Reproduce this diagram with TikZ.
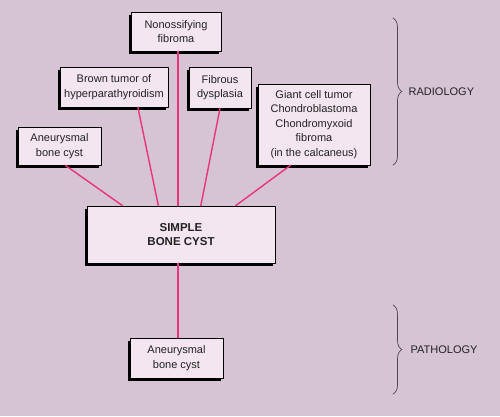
\documentclass[tikz,border=0pt]{standalone}
\usepackage{fontspec}
\setmainfont{Liberation Sans}
\usetikzlibrary{calc,shadows,decorations.pathreplacing}
\definecolor{bgcol}{HTML}{D6C4D4}
\definecolor{boxcol}{HTML}{F3E6F0}
\definecolor{linkcol}{HTML}{E8337F}
\definecolor{inkcol}{HTML}{222222}
\begin{document}
\begin{tikzpicture}[x=1pt, y=-1pt, font=\fontsize{11}{14.5}\selectfont, line join=round, line cap=round,
	lesion/.style={draw=black, line width=0.7pt, fill=boxcol, text=inkcol, align=center, inner sep=2pt,
		drop shadow={shadow xshift=-2.5pt, shadow yshift=-3pt, fill=black, opacity=1}},
	link/.style={draw=linkcol, line width=1.4pt},
	grouping/.style={draw=black!70, line width=0.7pt, decorate, decoration={brace, amplitude=9pt}}]
	\fill[bgcol] (0,0) rectangle (500,416);
	\useasboundingbox (0,0) rectangle (500,416);
	\node[lesion, minimum width=90, minimum height=39] (nonoss) at (176,31.5) {Nonossifying\\fibroma};
	\node[lesion, minimum width=108, minimum height=40] (brown) at (114,87) {Brown tumor of\\hyperparathyroidism};
	\node[lesion, minimum width=62, minimum height=41] (fibrous) at (220,87.5) {Fibrous\\dysplasia};
	\node[lesion, minimum width=83, minimum height=38] (abcrad) at (59.5,146) {Aneurysmal\\bone cyst};
	\node[lesion, minimum width=112, minimum height=81] (giant) at (314,124.5) {Giant cell tumor\\Chondroblastoma\\Chondromyxoid\\fibroma\\(in the calcaneus)};
	\node[lesion, minimum width=188, minimum height=57, font=\fontsize{11.5}{14}\selectfont\bfseries] (simple) at (181,234.5) {SIMPLE\\BONE CYST};
	\node[lesion, minimum width=93, minimum height=40] (abcpath) at (176.5,358) {Aneurysmal\\bone cyst};
	\draw[link] ($(abcrad.south west)!0.57!(abcrad.south east)$) -- ($(simple.north west)!0.19!(simple.north east)$);
	\draw[link] ($(brown.south west)!0.72!(brown.south east)$) -- ($(simple.north west)!0.38!(simple.north east)$);
	\draw[link] (nonoss.south) ++(2,0) coordinate (nbase) -- (nbase |- simple.north);
	\draw[link] (fibrous.south) -- ($(simple.north west)!0.605!(simple.north east)$);
	\draw[link] ($(giant.south west)!0.29!(giant.south east)$) -- ($(simple.north west)!0.79!(simple.north east)$);
	\draw[link] (nbase |- simple.south) coordinate (sbase) -- (sbase |- abcpath.north);
	\draw[grouping] (393,18) -- (393,165) node[midway, right=12pt, text=inkcol] (radio) {RADIOLOGY};
	\draw[grouping] (393,305) -- (393,394) node[midway, right=14pt, text=inkcol] (patho) {PATHOLOGY};
\end{tikzpicture}
\end{document}
